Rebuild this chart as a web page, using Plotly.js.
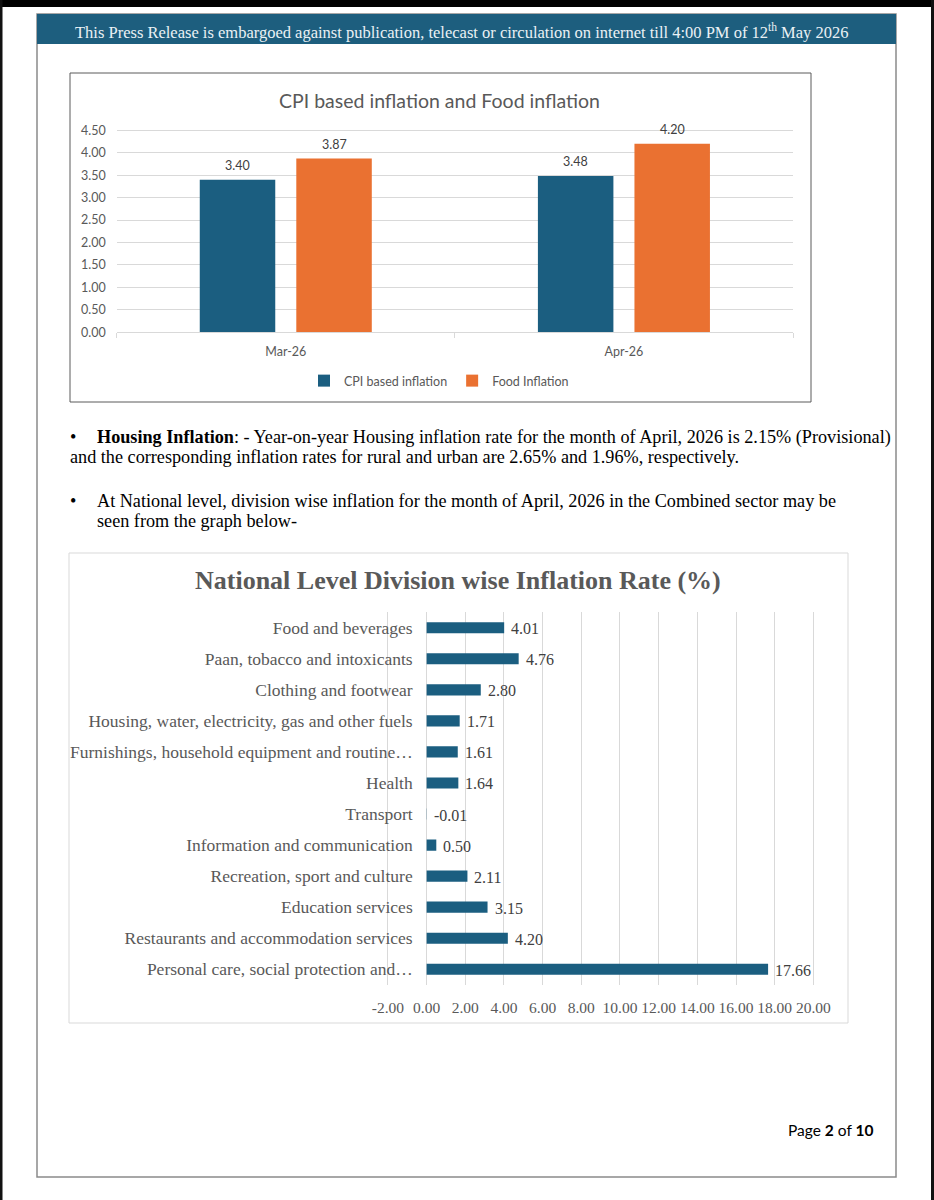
<!DOCTYPE html>
<html>
<head>
<meta charset="utf-8">
<script src="https://cdn.plot.ly/plotly-3.0.1.min.js"></script>
<style>html,body{margin:0;padding:0;background:#fff;}#chart{width:934px;height:1200px;}</style>
</head>
<body>
<div id="chart"></div>
<script>
// ---- Data ----
const months = ["Mar-26", "Apr-26"];
const cpiInflation = [3.40, 3.48];
const foodInflation = [3.87, 4.20];

const divisions = [
  "Food and beverages",
  "Paan, tobacco and intoxicants",
  "Clothing and footwear",
  "Housing, water, electricity, gas and other fuels",
  "Furnishings, household equipment and routine…",
  "Health",
  "Transport",
  "Information and communication",
  "Recreation, sport and culture",
  "Education services",
  "Restaurants and accommodation services",
  "Personal care, social protection and…"
];
const divisionRates = [4.01, 4.76, 2.80, 1.71, 1.61, 1.64, -0.01, 0.50, 2.11, 3.15, 4.20, 17.66];
const divisionTicks = [-2, 0, 2, 4, 6, 8, 10, 12, 14, 16, 18, 20];

// ---- Layout helpers ----
const W = 934, H = 1200;
const fx = p => p / W;
const fy = p => 1 - p / H;

const BLUE = "#1b5e80", ORANGE = "#ea7131";
const SANS = "Lato, 'Open Sans', sans-serif";
const SERIF = "'Liberation Serif', serif";

const traces = [
  {type: "bar", name: "CPI based inflation", x: months, y: cpiInflation,
   marker: {color: BLUE}, xaxis: "x", yaxis: "y", textposition: "none"},
  {type: "bar", name: "Food Inflation", x: months, y: foodInflation,
   marker: {color: ORANGE}, xaxis: "x", yaxis: "y", textposition: "none"},
  {type: "bar", orientation: "h", x: divisionRates, y: divisions,
   marker: {color: BLUE}, xaxis: "x2", yaxis: "y2", width: 0.36,
   showlegend: false, textposition: "none"}
];

function rect(x0, y0, x1, y1, opts) {
  return Object.assign({type: "rect", xref: "paper", yref: "paper",
    x0: fx(x0), x1: fx(x1), y0: fy(y1), y1: fy(y0), layer: "below"}, opts);
}

const shapes = [
  rect(0, 0, W, 7, {fillcolor: "#000", line: {width: 0}}),
  rect(0, 0, 2.5, H, {fillcolor: "#111", line: {width: 0}}),
  rect(931, 0, W, H, {fillcolor: "#111", line: {width: 0}}),
  rect(37, 14, 896, 1177, {line: {color: "#8a8a8a", width: 1.5}}),
  rect(37, 14, 896, 44, {fillcolor: "#1d5e7e", line: {width: 0}}),
  rect(70, 73, 811, 402, {line: {color: "#5a5a5a", width: 1}}),
  rect(69, 553, 848, 1023, {line: {color: "#d9d9d9", width: 1}})
];

function txt(x, y, text, font, xanchor) {
  const xa = xanchor || "left";
  return {xref: "paper", yref: "paper", x: fx(x), y: fy(y), text: text,
    showarrow: false, xanchor: xa, align: xa,
    yanchor: "middle", font: font};
}
const bodyFont = {family: SERIF, size: 18.2, color: "#000"};

const annotations = [
  txt(461, 31, "This Press Release is embargoed against publication, telecast or circulation on internet till 4:00 PM of 12<sup>th</sup> May 2026",
      {family: SERIF, size: 16.5, color: "#eaf1f5"}, "center"),
  txt(439, 100, "CPI based inflation and Food inflation", {family: SANS, size: 19.5, color: "#595959"}, "center"),
  txt(68, 437, "•", bodyFont),
  txt(95, 437, "<b>Housing Inflation</b>: - Year-on-year Housing inflation rate for the month of April, 2026 is 2.15% (Provisional)", bodyFont),
  txt(68, 457, "and the corresponding inflation rates for rural and urban are 2.65% and 1.96%, respectively.", bodyFont),
  txt(68, 501, "•", bodyFont),
  txt(95, 501, "At National level, division wise inflation for the month of April, 2026 in the Combined sector may be", bodyFont),
  txt(95, 521, "seen from the graph below-", bodyFont),
  txt(458, 580, "<b>National Level Division wise Inflation Rate (%)</b>", {family: SERIF, size: 26, color: "#595959"}, "center"),
  txt(876, 1130, "Page <b>2</b> of <b>10</b>", {family: SANS, size: 15.5, color: "#000"}, "right")
];

// data labels for the CPI / Food chart (offset to each bar of the group)
const GROUP_SHIFT = 48.25;
months.forEach((m, i) => {
  [[cpiInflation, -GROUP_SHIFT], [foodInflation, GROUP_SHIFT]].forEach(([arr, sh]) => {
    annotations.push({xref: "x", yref: "y", x: m, y: arr[i], text: arr[i].toFixed(2),
      showarrow: false, xanchor: "center", yanchor: "bottom", xshift: sh, yshift: 5,
      font: {family: SANS, size: 12.5, color: "#404040"}});
  });
});

// data labels for division chart
divisions.forEach((d, i) => {
  annotations.push({xref: "x2", yref: "y2", x: Math.max(divisionRates[i], 0), y: d,
    text: divisionRates[i].toFixed(2), showarrow: false, xanchor: "left", align: "left",
    yanchor: "middle", xshift: 5, yshift: -1, font: {family: SERIF, size: 16, color: "#404040"}});
});

const layout = {
  width: W, height: H,
  margin: {l: 0, r: 0, t: 0, b: 0},
  paper_bgcolor: "#fff", plot_bgcolor: "rgba(0,0,0,0)",
  barmode: "group", bargap: 0.429, bargroupgap: 0.218,
  showlegend: true,
  legend: {orientation: "h", x: fx(439), y: fy(381), xanchor: "center", yanchor: "middle",
    font: {family: SANS, size: 12.5, color: "#595959"}, itemwidth: 30, traceorder: "normal"},
  xaxis: {domain: [fx(116.7), fx(793)], anchor: "y", type: "category",
    showline: true, linecolor: "#d9d9d9", linewidth: 1,
    ticks: "outside", tickson: "boundaries", ticklen: 5, tickcolor: "#d9d9d9",
    showgrid: false, ticklabelstandoff: 8,
    tickfont: {family: SANS, size: 12.5, color: "#595959"}},
  yaxis: {domain: [fy(332.3), fy(128.9)], anchor: "x", range: [0, 4.53], dtick: 0.5, tick0: 0,
    tickformat: ".2f", gridcolor: "#d9d9d9", zeroline: false, showline: false,
    ticklabelstandoff: 10,
    tickfont: {family: SANS, size: 12.5, color: "#595959"}},
  xaxis2: {domain: [fx(386.8), fx(814.5)], anchor: "y2", range: [-2.06, 20.06],
    tickmode: "array", tickvals: divisionTicks, ticktext: divisionTicks.map(v => v.toFixed(2)),
    gridcolor: "#d9d9d9", zeroline: false, showline: false,
    ticklabelstandoff: 12,
    tickfont: {family: SERIF, size: 15.5, color: "#595959"}},
  yaxis2: {domain: [fy(984.8), fy(612.2)], anchor: "free", position: fx(426.7),
    type: "category", autorange: "reversed", showgrid: false, showline: false, zeroline: false,
    ticks: "", ticklabelstandoff: 14,
    tickfont: {family: SERIF, size: 17.5, color: "#595959"}},
  shapes: shapes,
  annotations: annotations
};

Plotly.newPlot("chart", traces, layout, {staticPlot: true, displayModeBar: false});
</script>
</body>
</html>
